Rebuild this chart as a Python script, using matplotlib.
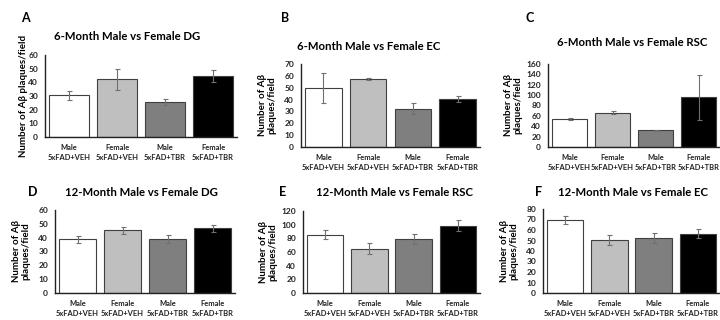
import matplotlib
matplotlib.use("Agg")
import matplotlib.pyplot as plt

plt.rcParams["font.family"] = ["Lato", "DejaVu Sans"]
plt.rcParams["font.weight"] = "bold"

W, H = 720, 320

GROUPS = ["Male\n5xFAD+VEH", "Female\n5xFAD+VEH", "Male\n5xFAD+TBR", "Female\n5xFAD+TBR"]
BAR_COLORS = ["#ffffff", "#bfbfbf", "#7f7f7f", "#000000"]

# values
a_mean = [30.5, 42.3, 25.6, 44.6]
a_err = [3.3, 7.6, 2.0, 4.5]
b_mean = [49.4, 57.3, 32.2, 40.6]
b_err = [12.7, 1.1, 4.5, 2.7]
c_mean = [53.5, 66.5, 32.3, 95.5]
c_err = [1.5, 3.5, 0.5, 43.0]
d_mean = [38.9, 45.4, 38.9, 46.8]
d_err = [2.4, 2.5, 2.8, 2.6]
e_mean = [85.6, 64.8, 78.9, 98.7]
e_err = [7.3, 8.0, 7.7, 7.5]
f_mean = [69.8, 50.2, 52.2, 56.6]
f_err = [4.0, 4.8, 4.8, 4.5]

TITLES = [
    "6-Month Male vs Female DG",
    "6-Month Male vs Female EC",
    "6-Month Male vs Female RSC",
    "12-Month Male vs Female DG",
    "12-Month Male vs Female RSC",
    "12-Month Male vs Female EC",
]
LETTERS = ["A", "B", "C", "D", "E", "F"]
YMAX = [60, 70, 160, 60, 120, 80]
YSTEP = [10, 10, 20, 10, 20, 10]

# layout in pixels: axes (left, right, top, bottom), title (x, y), letter (x, y), ylabel x
PANELS = [
    dict(ax=(45, 237, 55, 137), title=(127, 36), letter=(25, 18), ylab=24, one_line=True),
    dict(ax=(301, 480, 64, 147), title=(369, 47), letter=(285, 18), ylab=267, one_line=False),
    dict(ax=(548, 720, 64, 147), title=(632, 43), letter=(530, 18), ylab=513, one_line=False),
    dict(ax=(55, 235, 210, 293), title=(141, 192), letter=(33, 192), ylab=21, one_line=False),
    dict(ax=(303, 480, 211, 293), title=(394, 192), letter=(283, 192), ylab=268, one_line=False),
    dict(ax=(543, 720, 209, 293), title=(633, 192), letter=(539, 192), ylab=509, one_line=False),
]


def fx(px):
    return px / W


def fy(py):
    return 1 - py / H


def draw_panel(fig, spec, means, errs, title, letter, ymax, ystep):
    l, r, t, b = spec["ax"]
    ax = fig.add_axes([fx(l), fy(b), fx(r) - fx(l), fy(t) - fy(b)])
    x = range(len(means))
    ax.bar(x, means, width=0.82, color=BAR_COLORS, edgecolor="#404040", linewidth=0.8, zorder=2)
    ax.errorbar(x, means, yerr=errs, fmt="none", ecolor="#707070", elinewidth=0.8,
                capsize=1.8, capthick=0.8, zorder=3)
    ax.set_xlim(-0.5, 3.5)
    ax.set_ylim(0, ymax)
    ax.set_yticks(range(0, ymax + 1, ystep))
    ax.set_xticks(list(x))
    ax.set_xticklabels(GROUPS, fontsize=5.4, fontweight="bold", linespacing=1.5)
    ax.tick_params(axis="both", length=0, colors="#222222")
    ax.tick_params(axis="y", labelsize=6, pad=5)
    ax.tick_params(axis="x", pad=5)
    for lab in ax.get_yticklabels():
        lab.set_fontweight("bold")
    for side in ("top", "right"):
        ax.spines[side].set_visible(False)
    for side in ("left", "bottom"):
        ax.spines[side].set_color("#222222")
        ax.spines[side].set_linewidth(1.0)

    tx, ty = spec["title"]
    fig.text(fx(tx), fy(ty), title, ha="center", va="center", fontsize=8.2, fontweight="bold")
    lx, ly = spec["letter"]
    fig.text(fx(lx), fy(ly), letter, ha="center", va="center", fontsize=9, fontweight="bold")
    ylabel = "Number of A\u03b2 plaques/field" if spec["one_line"] else "Number of A\u03b2\nplaques/field"
    fig.text(fx(spec["ylab"]), fy((t + b) / 2), ylabel, rotation=90, ha="center", va="center",
             fontsize=7, fontweight="bold", linespacing=1.1)


def main() -> None:
    fig = plt.figure(figsize=(W / 100, H / 100), dpi=100)
    data = [(a_mean, a_err), (b_mean, b_err), (c_mean, c_err),
            (d_mean, d_err), (e_mean, e_err), (f_mean, f_err)]
    for i, (means, errs) in enumerate(data):
        draw_panel(fig, PANELS[i], means, errs, TITLES[i], LETTERS[i], YMAX[i], YSTEP[i])
    fig.savefig("out.png", dpi=100, facecolor="white")
    plt.close(fig)


if __name__ == "__main__":
    main()
